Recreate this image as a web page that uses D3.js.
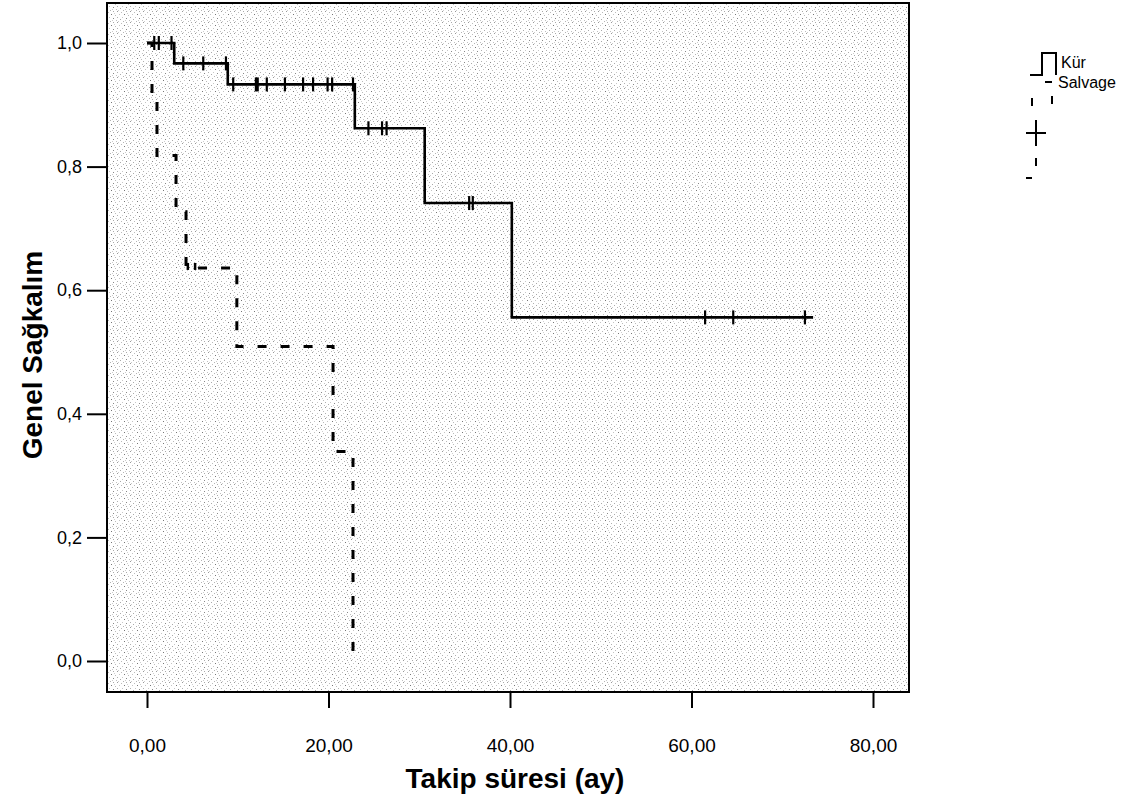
<!DOCTYPE html>
<html>
<head>
<meta charset="utf-8">
<script src="https://cdn.jsdelivr.net/npm/d3@7"></script>
<style>
  body { margin: 0; background: #fff; }
  svg text { font-family: "Liberation Sans", Arial, sans-serif; }
</style>
</head>
<body>
<div id="chart"></div>
<script>
// axis ticks
const xTicks = [0, 20, 40, 60, 80];
const yTicks = [0, 0.2, 0.4, 0.6, 0.8, 1.0];

// Kür group (solid): step times and survival after each step
const kurTimes = [0, 3.0, 8.9, 22.9, 30.6, 40.2];
const kurSurv = [1.0, 0.967, 0.933, 0.862, 0.741, 0.556];
const kurLast = 73.4;
const kurCensor = [0.8, 1.3, 2.7, 4.0, 6.2, 8.7, 9.5, 12.0, 12.2, 13.2, 15.2, 17.2,
  18.3, 19.9, 20.4, 22.7, 24.4, 25.9, 26.4, 35.5, 35.9, 61.5, 64.6, 72.5];

// Salvage group (dashed)
const salvTimes = [0, 0.55, 1.1, 3.2, 4.3, 9.9, 20.5, 22.7];
const salvSurv = [1.0, 0.909, 0.818, 0.727, 0.636, 0.509, 0.339, 0.0];
const salvCensor = [4.5, 5.3];

const W = 1130, H = 799;
const svg = d3.select("#chart").append("svg")
  .attr("width", W).attr("height", H);

// stipple texture like the scanned SPSS plot
const defs = svg.append("defs");
const pat = defs.append("pattern")
  .attr("id", "stip")
  .attr("width", 13).attr("height", 11)
  .attr("patternUnits", "userSpaceOnUse");
pat.append("rect").attr("width", 13).attr("height", 11).attr("fill", "#fff");
const dots = [[0, 0, "#999"], [4, 1, "#bbb"], [9, 0, "#aaa"], [2, 3, "#c4c4c4"], [7, 3, "#777"],
  [11, 4, "#bbb"], [0, 6, "#b0b0b0"], [5, 6, "#c8c8c8"], [9, 7, "#888"], [3, 8, "#aaa"],
  [12, 9, "#c0c0c0"], [6, 10, "#b4b4b4"], [1, 10, "#ccc"], [10, 2, "#d0d0d0"], [8, 9, "#ccc"]];
dots.forEach(d => pat.append("rect").attr("x", d[0]).attr("y", d[1])
  .attr("width", 1).attr("height", 1).attr("fill", d[2]));

const frame = { left: 107, right: 909, top: 3, bottom: 692 };

const x = d3.scaleLinear().domain([0, 80]).range([147, 873]);
const y = d3.scaleLinear().domain([0, 1]).range([661, 43]);

svg.append("rect")
  .attr("x", frame.left).attr("y", frame.top)
  .attr("width", frame.right - frame.left)
  .attr("height", frame.bottom - frame.top)
  .attr("fill", "url(#stip)");

const comma = f => d => d3.format(f)(d).replace(".", ",");

// y axis
const yAxis = svg.append("g")
  .attr("transform", `translate(${frame.left},0)`)
  .call(d3.axisLeft(y).tickValues(yTicks).tickSize(20).tickPadding(5)
    .tickFormat(comma(".1f")));
yAxis.select(".domain").remove();
yAxis.selectAll("line").attr("stroke", "#000").attr("stroke-width", 2);
yAxis.selectAll("text").attr("font-size", 18).attr("fill", "#000")
  .attr("font-family", "'Liberation Sans', Arial, sans-serif");

// x axis
const xAxis = svg.append("g")
  .attr("transform", `translate(0,${frame.bottom})`)
  .call(d3.axisBottom(x).tickValues(xTicks).tickSize(16).tickPadding(44)
    .tickFormat(comma(".2f")));
xAxis.select(".domain").remove();
xAxis.selectAll("line").attr("stroke", "#000").attr("stroke-width", 2);
xAxis.selectAll("text").attr("font-size", 19).attr("fill", "#000")
  .attr("font-family", "'Liberation Sans Narrow', 'Liberation Sans', Arial, sans-serif")
  .attr("dy", 0);

// frame
svg.append("rect")
  .attr("x", frame.left).attr("y", frame.top)
  .attr("width", frame.right - frame.left)
  .attr("height", frame.bottom - frame.top)
  .attr("fill", "none").attr("stroke", "#000").attr("stroke-width", 2);

const line = d3.line().x(d => x(d[0])).y(d => y(d[1])).curve(d3.curveStepAfter);

const kurPts = kurTimes.map((t, i) => [t, kurSurv[i]]);
kurPts.push([kurLast, kurSurv[kurSurv.length - 1]]);
const salvPts = salvTimes.map((t, i) => [t, salvSurv[i]]);

svg.append("path").datum(salvPts)
  .attr("d", line).attr("fill", "none")
  .attr("stroke", "#000").attr("stroke-width", 3)
  .attr("stroke-dasharray", "9,14");

svg.append("path").datum(kurPts)
  .attr("d", line).attr("fill", "none")
  .attr("stroke", "#000").attr("stroke-width", 2.6);

function survAt(times, surv, t) {
  let s = surv[0];
  times.forEach((tt, i) => { if (tt <= t) s = surv[i]; });
  return s;
}

svg.append("g").selectAll("line")
  .data(kurCensor).join("line")
  .attr("x1", d => x(d)).attr("x2", d => x(d))
  .attr("y1", d => y(survAt(kurTimes, kurSurv, d)) - 7)
  .attr("y2", d => y(survAt(kurTimes, kurSurv, d)) + 7)
  .attr("stroke", "#000").attr("stroke-width", 2.2);

svg.append("g").selectAll("line")
  .data(salvCensor).join("line")
  .attr("x1", d => x(d)).attr("x2", d => x(d))
  .attr("y1", d => y(survAt(salvTimes, salvSurv, d)) - 5)
  .attr("y2", d => y(survAt(salvTimes, salvSurv, d)) + 2)
  .attr("stroke", "#000").attr("stroke-width", 2.5);

// axis titles
svg.append("text")
  .attr("x", 515).attr("y", 788)
  .attr("text-anchor", "middle")
  .attr("font-size", 28).attr("font-weight", "bold")
  .text("Takip süresi (ay)");

svg.append("text")
  .attr("transform", "translate(42,355) rotate(-90)")
  .attr("text-anchor", "middle")
  .attr("font-size", 28).attr("font-weight", "bold")
  .text("Genel Sağkalım");

// legend
const lg = svg.append("g");
lg.append("path")
  .attr("d", "M1030,75 H1042 V53 H1056 V75")
  .attr("fill", "none").attr("stroke", "#000").attr("stroke-width", 2);
lg.append("text").attr("x", 1061).attr("y", 68).attr("font-size", 16).text("Kür");

lg.append("path")
  .attr("d", "M1032,98 V106 M1045,82 H1052 M1052,96 V104")
  .attr("fill", "none").attr("stroke", "#000").attr("stroke-width", 2);
lg.append("text").attr("x", 1058).attr("y", 88).attr("font-size", 16).text("Salvage");

lg.append("path")
  .attr("d", "M1036,120 V146 M1026,133 H1046")
  .attr("fill", "none").attr("stroke", "#000").attr("stroke-width", 2);

lg.append("path")
  .attr("d", "M1036,158 V166 M1026,178 H1032")
  .attr("fill", "none").attr("stroke", "#000").attr("stroke-width", 2);
</script>
</body>
</html>
